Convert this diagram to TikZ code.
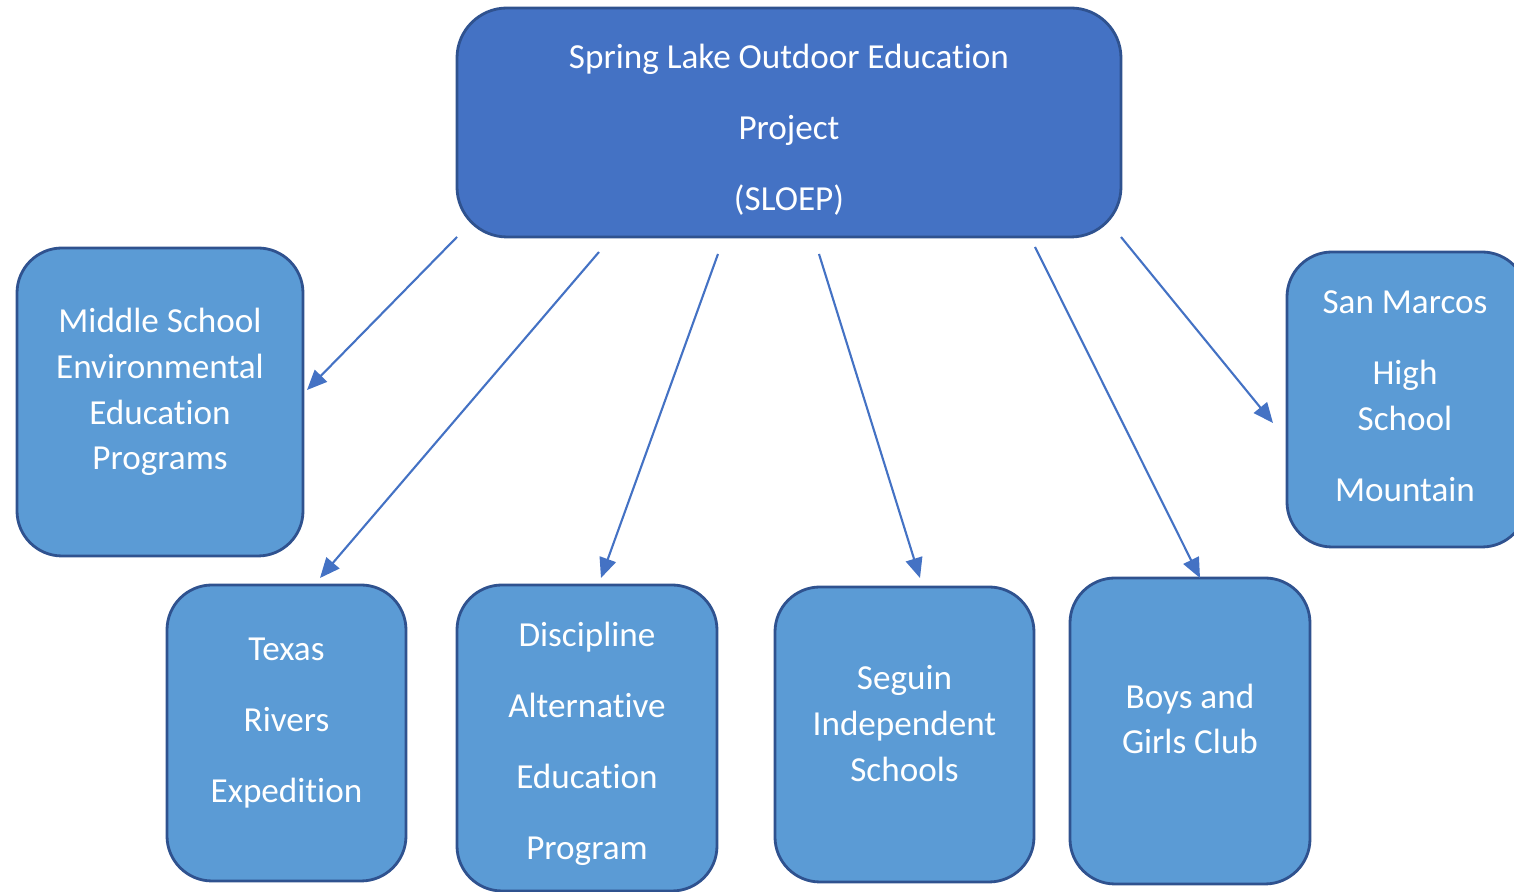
\documentclass[tikz,border=0pt]{standalone}
\usepackage{fontspec}
\setmainfont{Carlito}[Ligatures=NoCommon]
\usetikzlibrary{arrows.meta}
\definecolor{darkfill}{HTML}{4472C4}
\definecolor{lightfill}{HTML}{5B9BD5}
\definecolor{edgeblue}{HTML}{2F528F}
\begin{document}
\begin{tikzpicture}[
    box/.style={draw=edgeblue, line width=0.8pt, fill=lightfill, rounded corners=0.45cm, inner sep=0pt, outer sep=0pt},
    topbox/.style={box, fill=darkfill, rounded corners=0.5cm},
    txt/.style={text=white, align=center, inner sep=0pt, font=\fontsize{10}{13}\selectfont},
    link/.style={darkfill, line width=0.6pt, -{Triangle[length=0.2cm,width=0.17cm]}}
  ]
  \useasboundingbox (0,0) rectangle (15.14,8.92);
  \clip (0,0) rectangle (15.14,8.92);

  \node[topbox, minimum width=6.64cm, minimum height=2.29cm] (top) at (7.89,7.695) {};
  \node[box, minimum width=2.86cm, minimum height=3.08cm] (ms) at (1.60,4.90) {};
  \node[box, minimum width=2.40cm, minimum height=2.95cm] (sm) at (14.07,4.925) {};
  \node[box, minimum width=2.39cm, minimum height=2.96cm] (tx) at (2.865,1.59) {};
  \node[box, minimum width=2.60cm, minimum height=3.06cm] (dp) at (5.87,1.54) {};
  \node[box, minimum width=2.59cm, minimum height=2.95cm] (sg) at (9.045,1.575) {};
  \node[box, minimum width=2.40cm, minimum height=3.06cm] (bg) at (11.90,1.61) {};

  \node[txt] (top-t) at ([yshift=-0.07cm]top.center) {Spring Lake Outdoor Education\\[7.2pt] Project\\[7.2pt] (SLOEP)};
  \node[txt] (ms-t) at ([yshift=0.10cm]ms.center) {Middle School\\ Environmental\\ Education\\ Programs};
  \node[txt] (sm-t) at ([xshift=-0.02cm,yshift=0.035cm]sm.center) {San Marcos\\[7.2pt] High\\ School\\[7.2pt] Mountain};
  \node[txt] (tx-t) at ([yshift=0.10cm]tx.center) {Texas\\[7.2pt] Rivers\\[7.2pt] Expedition};
  \node[txt] (dp-t) at ([yshift=-0.055cm]dp.center) {Discipline\\[7.2pt] Alternative\\[7.2pt] Education\\[7.2pt] Program};
  \node[txt] (sg-t) at ([yshift=0.11cm]sg.center) {Seguin\\ Independent\\ Schools};
  \node[txt] (bg-t) at ([yshift=0.12cm]bg.center) {Boys and\\ Girls Club};

  \draw[link] (top.south west) -- ([xshift=0.04cm,yshift=0.12cm]ms.east);
  \draw[link] ([xshift=1.42cm,yshift=-0.15cm]top.south west) -- ([xshift=0.335cm,yshift=0.07cm]tx.north);
  \draw[link] ([xshift=-0.71cm,yshift=-0.17cm]top.south) -- ([xshift=0.14cm,yshift=0.07cm]dp.north);
  \draw[link] ([xshift=0.30cm,yshift=-0.17cm]top.south) -- ([xshift=0.155cm,yshift=0.09cm]sg.north);
  \draw[link] ([xshift=-0.86cm,yshift=-0.10cm]top.south east) -- ([xshift=0.10cm]bg.north);
  \draw[link] (top.south east) -- ([xshift=-0.14cm,yshift=-0.235cm]sm.west);
\end{tikzpicture}
\end{document}
